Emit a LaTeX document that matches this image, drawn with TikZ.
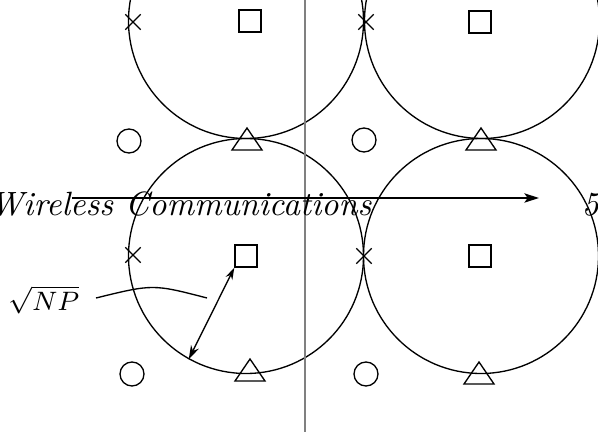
\documentclass[tikz,border=0pt]{standalone}
\usepackage{tikz}
\usetikzlibrary{shapes.geometric, shapes.misc, arrows.meta, calc}
\definecolor{axisgray}{RGB}{128, 128, 128}
\tikzset{
    cellcircle/.style={draw, circle, minimum size=70.5pt, inner sep=0pt},
    basestation/.style={draw, rectangle, minimum size=6.6pt, inner sep=0pt},
    usermark/.style={draw, circle, minimum size=7.2pt, inner sep=0pt},
    crossmark/.style={draw, cross out, minimum size=4.2pt, inner sep=0pt},
    trimark/.pic={\draw (-15,11) -- (15,11) -- (0,-11) -- cycle;},
    axisarrow/.style={-{Stealth[length=4.4pt, width=2.8pt, inset=1pt]}},
    distarrow/.style={{Stealth[length=3.6pt, width=2.2pt]}-{Stealth[length=4.2pt, width=2.6pt]}},
    headertext/.style={font=\fontsize{10.1}{12}\selectfont\itshape, inner sep=0pt},
}
\begin{document}
\begin{tikzpicture}[x=0.3pt, y=-0.3pt]
    \useasboundingbox (0,0) rectangle (598,436);
    \node[cellcircle] (cellA) at (246,21) {};
    \node[cellcircle] (cellB) at (482,21) {};
    \node[cellcircle] (cellC) at (246,256) {};
    \node[cellcircle] (cellD) at (481,256) {};
    \node[basestation] (bsA) at (250,21) {};
    \node[basestation] (bsB) at (480,22) {};
    \node[basestation] (bsC) at (246,256) {};
    \node[basestation] (bsD) at (480,256) {};
    \node[crossmark] (xA) at (133,22) {};
    \node[crossmark] (xB) at (366,22) {};
    \node[crossmark] (xC) at (133,255) {};
    \node[crossmark] (xD) at (364,256) {};
    \node[usermark] (uA) at (129,141) {};
    \node[usermark] (uB) at (364,140) {};
    \node[usermark] (uC) at (132,374) {};
    \node[usermark] (uD) at (366,374) {};
    \pic at (247,139) {trimark};
    \pic at (481,139) {trimark};
    \pic at (250,370) {trimark};
    \pic at (479,373) {trimark};
    \coordinate (vtop) at (305,0);
    \coordinate (vbot) at (305,432);
    \draw[axisgray, line width=0.5pt] (vtop) -- (vbot);
    \node[headertext, anchor=base east] (title) at (372,216) {Wireless Communications};
    \node[headertext, anchor=base west] (pageno) at (581,216) {53};
    \coordinate (hstart) at (72,198);
    \coordinate (hend) at (539,198);
    \draw[axisarrow] (hstart) -- (hend);
    \draw[distarrow] (bsC.south west) -- (cellC.241);
    \node[font=\fontsize{8}{10}\selectfont, inner sep=0pt, anchor=base east] (radius) at (80,311) {$\sqrt{NP}$};
    \coordinate (ptr) at (207,298);
    \draw ([xshift=4.8pt]radius.east |- ptr) .. controls (153,284) .. (ptr);
\end{tikzpicture}
\end{document}
